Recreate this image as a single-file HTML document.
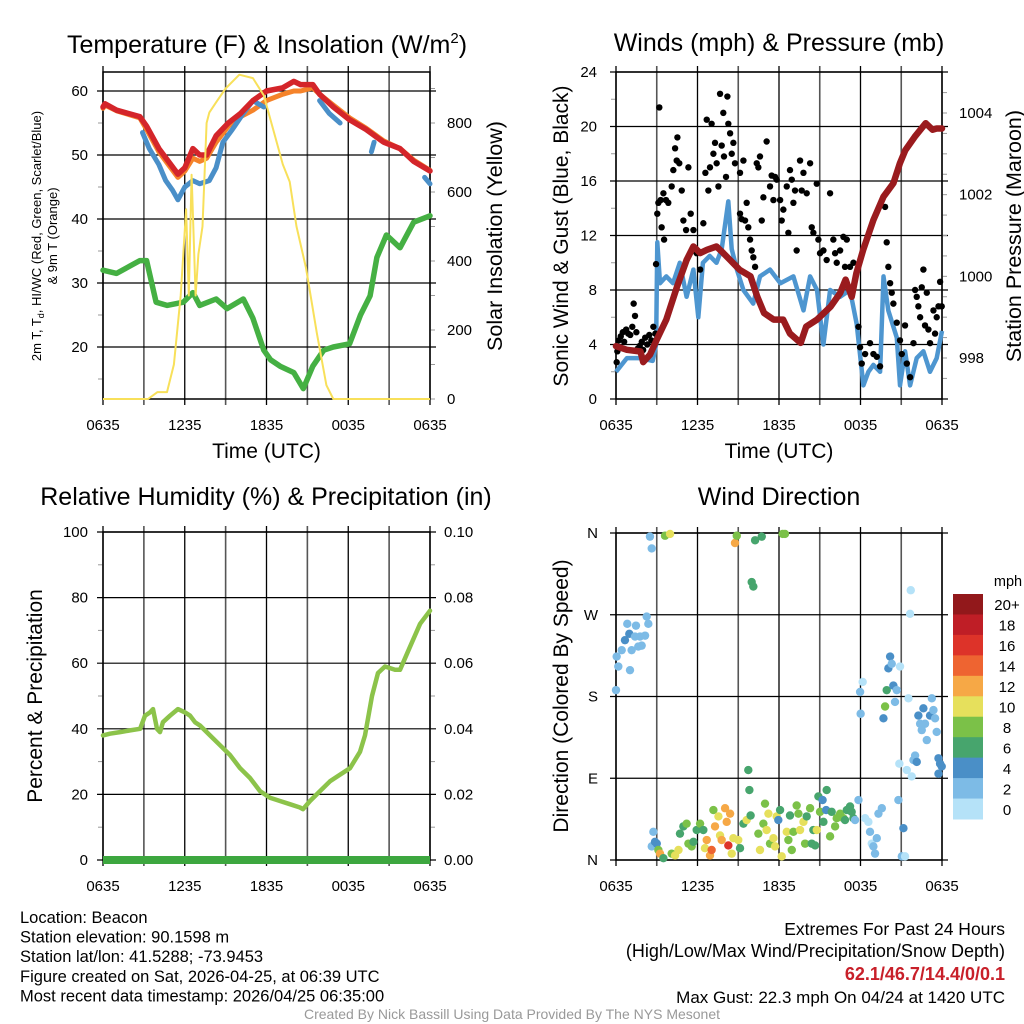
<!DOCTYPE html>
<html><head><meta charset="utf-8">
<style>
html,body{margin:0;padding:0;background:#fff;}
svg{display:block;font-family:"Liberation Sans",Arial,sans-serif;}
</style></head>
<body>
<svg id="svg" width="1024" height="1024" viewBox="0 0 1024 1024"></svg>
<script>
// ---------- DATA ----------
const xTickLabels=["0635","1235","1835","0035","0635"];
// Panel 1: temperature (hours since 0635)
const tempHours=[0,0.15,1,2.7,3.2,4.1,4.8,5.5,6.0,6.6,7.1,7.6,8.3,9.2,10.1,11.0,12.0,13.2,14.0,14.5,15.4,15.9,16.9,18.1,19.3,20.6,21.8,22.8,24];
const tempRed=[57.5,58,57,56,54.5,51,49,47,48,51,50,50,53,55,56.5,58.5,60,60.5,61.5,61,61,59.5,57.5,55.5,54,52,51,49,47.5];
const tempOrange=[57.3,57.8,56.9,55.8,54,50.5,48.5,46.5,47.5,49.5,49,49.5,52,54.5,56,57,58.5,59.5,60,60,60.5,59.5,57.8,55.8,54.2,52.2,51,49.2,47.6];
const hiwcHours=[2.9,3.4,4.1,4.6,5.1,5.5,6.0,6.6,7.1,7.8,8.3,8.8,9.5,10.3,11.0,11.8,null,15.9,16.6,17.4,null,19.7,19.9,null,23.6,24];
const hiwcVals=[53.5,51,48.5,46,44.5,43,45,46,45.5,46,48,52,54,56.5,58.5,57.5,null,58.5,56.5,55,null,50.5,52,null,46.5,45.5];
const dewHours=[0,1,2.7,3.2,3.9,4.7,5.9,6.6,7.1,8.3,9.1,10.3,11.0,11.8,12.3,13.0,14.0,14.7,15.4,16.2,16.9,18.1,18.9,19.6,20.1,20.8,21.8,22.8,24];
const dewVals=[32,31.5,33.5,33.5,27,26.5,27,28.5,26.5,27.5,26,27.5,24.5,19.5,18,17,16,13.5,17,19.5,20,20.5,25,28,34,37.5,35.5,39.5,40.5];
const solarHours=[0,3.3,4.0,4.7,5.2,5.7,6.1,6.3,6.5,6.8,7.0,7.3,7.6,7.8,8.3,9.0,10.0,11.0,11.8,12.5,13.2,13.7,14.2,14.9,15.7,16.4,16.9,24];
const solarVals=[0,0,20,20,100,300,550,300,650,300,420,500,800,830,860,900,940,930,880,780,680,630,500,380,190,40,0,0];
// Panel 2: wind
const windHours=[0,0.8,1.8,2.7,2.95,3.04,3.24,3.7,4.2,4.7,5.2,5.7,6.06,6.4,6.9,7.4,7.78,8.27,8.52,8.9,9.38,10.1,10.6,11.34,12.1,13.06,13.8,14.29,14.8,15.27,15.76,16.5,17.23,17.72,18.21,18.58,18.95,19.44,19.69,20.05,20.67,20.91,21.28,21.65,22.14,22.63,23.12,23.61,24];
const windVals=[2,3,3,2.8,4,11.5,8.5,9,8.5,10,7.5,9.5,6,10,10.5,10,11,14.5,11,9.5,8,7,9,9.5,8.5,9,6.5,9,8,4,8,7.5,8,5.5,1,2,2.5,2,9,6.5,4.5,1,3.5,1,3,3.5,2,3,5];
const gustHours=[0.05,0.1,0.2,0.35,0.5,0.6,0.75,0.9,1.05,1.2,1.3,1.4,1.5,1.6,1.75,1.9,2.0,2.15,2.3,2.45,2.6,2.75,2.9,2.95,
3.04,3.12,3.19,3.29,3.36,3.49,3.54,3.68,3.85,4.10,4.22,4.35,4.47,4.52,4.66,4.84,4.96,5.16,5.33,5.50,5.70,5.94,6.19,6.43,6.58,6.68,6.80,6.92,7.04,7.17,7.29,7.41,7.54,7.66,7.78,7.90,7.95,8.10,8.20,8.27,8.40,8.52,8.64,8.76,
9.13,9.13,9.25,9.38,9.50,9.62,9.74,9.87,9.99,10.11,10.24,10.36,10.48,10.60,10.73,10.85,11.09,11.34,11.46,11.59,11.71,11.83,12.08,12.20,12.32,12.57,12.69,12.81,12.94,13.06,13.18,13.30,13.55,13.67,13.80,14.04,14.29,14.41,14.53,14.78,14.90,15.02,15.27,15.51,15.76,16.00,16.13,16.25,16.50,16.74,16.86,16.99,17.23,17.48,
17.85,17.97,18.09,18.34,18.70,18.95,19.20,19.44,19.81,19.93,20.05,20.18,20.30,20.42,20.67,20.91,21.04,21.28,21.41,21.65,21.90,22.02,22.14,22.26,22.39,22.51,22.63,22.75,22.88,23.00,23.12,23.37,23.49,23.61,23.74,23.86,23.98];
const gustVals=[2.7,3.5,4.3,4.6,4.9,4.2,5.1,4.8,4.7,5.3,7,6.1,4.9,3.7,3.9,4.2,3.6,4.5,4,4.7,4.3,5.3,4.8,9.9,
13.6,14.4,21.4,14.6,12.6,15.1,11.7,14.6,14.4,15.6,16.8,18.4,17.5,19.2,17.3,15.3,13.1,12.4,17,13.6,12.4,10.7,9.5,12.9,16.6,20.5,15.3,17,20.2,18,18.8,17.3,15.6,22.4,18.6,21,17.8,16.3,22.2,20.2,19.5,18,18.8,17.3,
16.6,13.6,13.2,17.5,13.1,14.4,12.6,11.7,10.9,10.4,9.7,17.3,17,17.8,13.1,14.8,18.9,15.6,16.4,14.6,16.3,16.1,14.6,13.1,13.9,15.6,12.2,16.8,16.1,14.4,15.3,10.9,17.5,15.3,16.6,15.1,17.3,12.6,12.2,15.8,11.7,10.7,10.9,10.2,15.1,11.7,10.7,10,10.9,11.9,9.7,11.7,9.7,10,
5.3,3.8,2.6,3.3,4.1,3.3,3.1,2.4,14.1,11.5,9.7,8.5,7.8,7,5.6,4.3,3.3,5.4,2.6,1.6,4.1,8,7.5,6.8,6,8.2,9.5,5.4,7.8,5.1,4.1,6.5,4.8,6,6.8,8.6,6.8];
const presHours=[0,0.8,1.8,2.0,2.5,3.0,3.7,4.5,5.2,5.7,6.2,6.7,7.4,7.9,8.4,9.1,9.9,10.4,10.9,11.6,12.3,12.8,13.6,14.0,14.8,15.8,16.5,16.9,17.35,17.7,18.2,18.95,19.69,20.42,20.9,21.3,22.0,22.8,23.3,23.6,24];
const presVals=[998.29,998.2,998.16,997.9,998.08,998.45,998.94,999.75,1000.4,1000.73,1000.57,1000.65,1000.73,1000.57,1000.4,1000.16,1000.0,999.5,999.1,998.94,998.94,998.6,998.37,998.77,998.94,999.26,999.59,999.92,999.5,1000.08,1000.65,1001.38,1001.95,1002.28,1002.77,1003.09,1003.42,1003.75,1003.59,1003.62,1003.62];
// Panel 3: RH
const rhHours=[0,0.51,1.25,1.98,2.72,3.08,3.45,3.67,3.96,4.18,4.40,4.92,5.50,6.02,6.39,6.75,7.12,7.85,8.59,9.32,10.06,10.79,11.52,12.26,12.99,13.72,14.46,14.68,15.19,15.93,16.66,17.39,18.13,18.86,19.23,19.74,20.18,20.70,21.43,21.80,22.53,23.27,24];
const rhVals=[38,38.5,39,39.5,40,44,45,46,40,39,42,44,46,45,44,42,41,38,35,32,28,25,21,19,18,17,16,15.5,18,21,24,26,28,33,38,50,57,59,58,58,65,72,76];
const precipHours=[0,24];
const precipVals=[0,0];
// Panel 4: wind direction (hours, degrees, speed mph)
const dirHours=[0.0,0.05,0.17,0.42,0.66,0.83,0.98,1.15,1.03,1.40,1.47,1.64,1.77,1.89,2.14,2.26,2.38,2.50,2.63,2.63,2.75,2.87,3.0,3.12,3.24,3.49,3.61,3.98,4.1,4.35,4.6,4.71,4.96,5.2,5.33,5.57,5.7,5.94,6.19,6.43,6.55,6.68,6.92,7.04,7.17,7.29,7.54,7.66,7.78,8.03,8.15,8.27,8.40,8.52,8.64,8.76,8.89,9.0,9.13,9.38,9.62,9.74,9.82,9.91,9.99,10.11,10.24,10.48,10.6,10.73,10.85,10.97,11.09,11.22,11.34,11.59,11.71,11.83,11.95,12.08,12.20,12.27,12.44,12.57,12.69,12.81,12.94,13.06,13.30,13.43,13.55,13.80,13.92,14.04,14.29,14.41,14.53,14.66,14.78,14.90,15.02,15.21,15.27,15.47,15.51,15.76,15.88,16.13,16.25,16.50,16.74,16.86,16.99,17.23,17.35,17.48,17.60,17.85,17.97,18.01,18.16,18.34,18.58,18.70,18.83,18.95,19.07,19.20,19.32,19.57,19.69,19.81,19.93,20.05,20.18,20.30,20.42,20.54,20.67,20.79,20.86,20.91,21.04,21.16,21.28,21.41,21.53,21.65,21.70,21.77,21.90,22.02,22.14,22.26,22.39,22.51,22.63,22.75,22.88,23.12,23.25,23.37,23.49,23.61,23.74,23.86,23.98,23.74];
const dirDegs=[187,224,213,231,242,260,249,231,209,246,258,235,246,236,247,268,260,356,343,15,31,20,18,11,7,2,357,359,7,5,11,29,37,40,18,15,20,33,40,33,13,22,5,11,55,37,48,27,22,57,42,16,51,7,24,349,357,22,13,40,44,99,77,49,306,301,352,29,11,356,40,62,33,51,18,24,15,48,44,55,4,359,359,31,22,49,11,31,60,51,33,42,18,48,57,18,33,16,33,70,53,66,42,55,77,26,53,37,46,51,46,44,55,59,53,46,44,66,185,161,196,46,42,31,18,15,7,24,51,57,156,169,187,211,224,216,192,174,187,66,106,213,4,35,4,99,178,271,297,92,110,115,108,159,150,143,167,150,132,159,178,165,156,141,112,106,103,95];
const dirSpeeds=[2,2,2,3,4,2,4,2,2,2,2,2,2,2,2,2,2,2,2,2,2,4,4,8,12,6,8,10,8,10,10,6,6,8,8,8,6,6,8,6,10,12,12,14,8,12,10,10,12,12,12,16,12,10,10,12,8,10,6,6,10,6,6,6,6,6,6,8,10,6,8,8,10,10,8,10,10,10,4,6,10,8,8,10,8,6,8,8,8,8,10,10,8,6,8,6,6,6,10,6,8,4,6,4,6,8,6,8,8,8,8,6,6,6,6,6,2,2,2,2,0,0,0,2,0,2,2,2,2,2,4,8,6,4,4,2,4,2,2,2,0,0,2,4,0,0,0,0,0,0,2,2,4,4,2,2,4,2,2,4,2,2,2,2,4,4,4,4];
const speedBinLabels=["0","2","4","6","8","10","12","14","16","18","20+"];
const speedBinColors=["#b5e2f8","#7dbbe6","#4a8fc7","#47a56d","#7bc148","#e6e05c","#f6a846","#ee6431","#dd3329","#bf1e26","#92181b"];
// Footer values
const extremesText="62.1/46.7/14.4/0/0.1";

// ---------- HELPERS ----------
const NS="http://www.w3.org/2000/svg";
const svg=document.getElementById('svg');
function mk(tag,attrs,parent,text){const e=document.createElementNS(NS,tag);for(const k in attrs)e.setAttribute(k,attrs[k]);if(text!==undefined)e.textContent=text;(parent||svg).appendChild(e);return e;}
function linScale(d0,d1,r0,r1){return v=>r0+(v-d0)/(d1-d0)*(r1-r0);}
function pathFrom(xs,ys,sx,sy){let d="",pen=false;for(let i=0;i<xs.length;i++){if(xs[i]===null||ys[i]===null){pen=false;continue;}d+=(pen?"L":"M")+sx(xs[i]).toFixed(1)+","+sy(ys[i]).toFixed(1);pen=true;}return d;}

function panel(cfg){
  const g=mk('g',{},svg);
  
  
  const {x0,x1,y0,y1}=cfg;
  const sx=linScale(0,24,x0,x1);
  for(let h=0;h<=24;h+=3){
    const gl=mk('line',{x1:sx(h),x2:sx(h),y1:y0-6,y2:y1+6,stroke:(h%6===0?'#000':'#555'),'stroke-width':(h%6===0?1.3:1.6)},g);
    
    
  }
  for(let i=0;i<xTickLabels.length;i++){
    const t=mk('text',{x:sx(i*6),y:y1+31,'font-size':15,'text-anchor':'middle'},g,xTickLabels[i]);
    
    
  }
  cfg.hlines.forEach(y=>{const l=mk('line',{x1:x0-6,x2:x1+6,y1:y,y2:y,stroke:'#000','stroke-width':1.2},g);
    
    });
  (cfg.minorL||[]).forEach(y=>{mk('line',{x1:x0-5,x2:x0,y1:y,y2:y,stroke:'#999','stroke-width':1},g);});
  (cfg.minorR||[]).forEach(y=>{mk('line',{x1:x1,x2:x1+5,y1:y,y2:y,stroke:'#999','stroke-width':1},g);});
  mk('rect',{x:x0,y:y0,width:x1-x0,height:y1-y0,fill:'none',stroke:'#000','stroke-width':1.5},g);
  if(cfg.xtitle){const t=mk('text',{x:(x0+x1)/2,y:y1+59,'font-size':21,'text-anchor':'middle'},g,cfg.xtitle);
    }
  const tt=mk('text',{x:cfg.tx,y:cfg.ty,'font-size':25,'text-anchor':'middle'},g);
  tt.innerHTML=cfg.title;
  
  
  return {g,sx};
}
function tickLabels(g,vals,scale,x,anchor,fmt){vals.forEach(v=>{const t=mk('text',{x:x,y:scale(v)+5,'font-size':15,'text-anchor':anchor},g,fmt?fmt(v):String(v));
  });}
function vTitle(g,x,y,text,size,name){const t=mk('text',{x:x,y:y,'font-size':size,'text-anchor':'middle',transform:`rotate(-90 ${x} ${y})`},g,text);
  return t;}

// ---------- PANEL 1 ----------
(function(){
  const x0=103,x1=430,y0=72,y1=399;
  const sy=linScale(20,60,347,91), sr=linScale(0,800,399,123);
  const hl=[20,30,40,50,60].map(sy);
  const minorL=[15,25,35,45,55].map(sy);
  const minorR=[100,300,500,700,900].map(sr).concat([0,200,400,600,800].map(sr));
  const {g,sx}=panel({name:'temperature-panel',x0,x1,y0,y1,hlines:hl,minorL,minorR,xtitle:'Time (UTC)',tx:267,ty:53,
    title:'Temperature (F) &amp; Insolation (W/m<tspan dy="-10" font-size="15">2</tspan><tspan dy="10">)</tspan>'});
  tickLabels(g,[20,30,40,50,60],sy,88,'end');
  tickLabels(g,[0,200,400,600,800],sr,447,'start');
  const lt=mk('text',{'font-size':13,'text-anchor':'middle',transform:'translate(41 236) rotate(-90)'},g);
  lt.innerHTML='<tspan x="0" y="0">2m T, T<tspan font-size="9" dy="3">d</tspan><tspan dy="-3">, HI/WC (Red, Green, Scarlet/Blue)</tspan></tspan><tspan x="0" y="16">&amp; 9m T (Orange)</tspan>';
  
  vTitle(g,502,236,'Solar Insolation (Yellow)',21.5,'y-axis-title-right');
  const o=mk('path',{d:pathFrom(tempHours,tempOrange,sx,sy),fill:'none',stroke:'#f5832a','stroke-width':5,'stroke-linejoin':'round','stroke-linecap':'round'},g);
  
  const b=mk('path',{d:pathFrom(hiwcHours,hiwcVals,sx,sy),fill:'none',stroke:'#4a8fc8','stroke-width':5,'stroke-linejoin':'round','stroke-linecap':'round'},g);
  
  const r=mk('path',{d:pathFrom(tempHours,tempRed,sx,sy),fill:'none',stroke:'#d4252a','stroke-width':5.5,'stroke-linejoin':'round','stroke-linecap':'round'},g);
  
  const d=mk('path',{d:pathFrom(dewHours,dewVals,sx,sy),fill:'none',stroke:'#45b043','stroke-width':5.5,'stroke-linejoin':'round','stroke-linecap':'round'},g);
  
  const s=mk('path',{d:pathFrom(solarHours,solarVals,sx,sr),fill:'none',stroke:'#f8e05a','stroke-width':2,'stroke-linejoin':'round'},g);
  
})();

// ---------- PANEL 2 ----------
(function(){
  const x0=616,x1=942,y0=72,y1=399;
  const sy=linScale(0,24,399,72), sp=linScale(998,1004,358,113);
  const hl=[0,4,8,12,16,20,24].map(sy);
  const minorL=[2,6,10,14,18,22].map(sy);
  const minorR=[997.5,998.5,999,999.5,1000.5,1001,1001.5,1002.5,1003,1003.5,1004.5].map(sp).concat([998,1000,1002,1004].map(sp));
  const {g,sx}=panel({name:'wind-pressure-panel',x0,x1,y0,y1,hlines:hl,minorL,minorR,xtitle:'Time (UTC)',tx:779,ty:51,
    title:'Winds (mph) &amp; Pressure (mb)'});
  tickLabels(g,[0,4,8,12,16,20,24],sy,597,'end');
  tickLabels(g,[998,1000,1002,1004],sp,959,'start');
  vTitle(g,568,236,'Sonic Wind & Gust (Blue, Black)',21,'y-axis-title-left');
  vTitle(g,1021,236,'Station Pressure (Maroon)',21.5,'y-axis-title-right');
  const w=mk('path',{d:pathFrom(windHours,windVals,sx,sy),fill:'none',stroke:'#4e96d0','stroke-width':4.5,'stroke-linejoin':'round'},g);
  
  for(let i=0;i<gustHours.length;i++){
    const c=mk('circle',{cx:sx(gustHours[i]),cy:sy(gustVals[i]),r:3.2,fill:'#000'},g);
    
    
  }
  const p=mk('path',{d:pathFrom(presHours,presVals,sx,sp),fill:'none',stroke:'#9a1b1e','stroke-width':6.5,'stroke-linejoin':'round','stroke-linecap':'round'},g);
  
})();

// ---------- PANEL 3 ----------
(function(){
  const x0=103,x1=430,y0=532,y1=860;
  const sy=linScale(0,100,860,532), sr=linScale(0,0.1,860,532);
  const hl=[0,20,40,60,80,100].map(sy);
  const minorL=[10,30,50,70,90].map(sy);
  const {g,sx}=panel({name:'humidity-precip-panel',x0,x1,y0,y1,hlines:hl,minorL,minorR:minorL,xtitle:null,tx:266,ty:505,
    title:'Relative Humidity (%) &amp; Precipitation (in)'});
  tickLabels(g,[0,20,40,60,80,100],sy,88,'end');
  tickLabels(g,[0,0.02,0.04,0.06,0.08,0.1],sr,444,'start',v=>v.toFixed(2));
  vTitle(g,42,696,'Percent & Precipitation',21,'y-axis-title-left');
  const pr=mk('path',{d:pathFrom(precipHours,precipVals,sx,sr),fill:'none',stroke:'#3da73f','stroke-width':8},g);
  
  const rh=mk('path',{d:pathFrom(rhHours,rhVals,sx,sy),fill:'none',stroke:'#8cc34a','stroke-width':4.5,'stroke-linejoin':'round','stroke-linecap':'round'},g);
  
})();

// ---------- PANEL 4 ----------
(function(){
  const x0=616,x1=942,y0=533,y1=860;
  const sy=linScale(0,360,860,533);
  const hl=[0,90,180,270,360].map(sy);
  const {g,sx}=panel({name:'wind-direction-panel',x0,x1,y0,y1,hlines:hl,minorL:[],minorR:[],xtitle:null,tx:779,ty:505,
    title:'Wind Direction'});
  const dl=["N","E","S","W","N"];
  [0,90,180,270,360].forEach((v,i)=>{const t=mk('text',{x:598,y:sy(v)+5,'font-size':15,'text-anchor':'end'},g,dl[i]);
    });
  vTitle(g,568,696,'Direction (Colored By Speed)',21,'y-axis-title-left');
  for(let i=0;i<dirHours.length;i++){
    const bin=Math.min(10,Math.floor(dirSpeeds[i]/2));
    const c=mk('circle',{cx:sx(dirHours[i]),cy:sy(dirDegs[i]),r:4.2,fill:speedBinColors[bin]},g);
    
    
  }
  const cb=mk('g',{},svg);
  
  
  const top=594,bot=819,bh=(bot-top)/speedBinColors.length;
  for(let k=0;k<speedBinColors.length;k++){
    const idx=speedBinColors.length-1-k;
    const rr=mk('rect',{x:953,y:top+k*bh,width:30,height:bh+0.5,fill:speedBinColors[idx]},cb);
    
    
    const t=mk('text',{x:1007,y:top+k*bh+bh/2+6,'font-size':15,'text-anchor':'middle'},cb,speedBinLabels[idx]);
    
    
  }
  const u=mk('text',{x:1008,y:586,'font-size':14.5,'text-anchor':'middle'},cb,'mph');
  
})();

// ---------- FOOTER ----------
(function(){
  const f=mk('g',{'font-size':16.5},svg);
  
  
  const left=["Location: Beacon","Station elevation: 90.1598 m","Station lat/lon: 41.5288; -73.9453","Figure created on Sat, 2026-04-25, at 06:39 UTC","Most recent data timestamp: 2026/04/25 06:35:00"];
  left.forEach((s,i)=>{const t=mk('text',{x:20,y:923+i*19.6},f,s);
    });
  const r1=mk('text',{x:1005,y:935,'text-anchor':'end','font-size':17.5},f,'Extremes For Past 24 Hours');
  
  const r2=mk('text',{x:1005,y:957,'text-anchor':'end','font-size':18},f,'(High/Low/Max Wind/Precipitation/Snow Depth)');
  
  const r3=mk('text',{x:1005,y:980,'text-anchor':'end','font-size':18,'font-weight':'bold',fill:'#c8202a'},f,extremesText);
  
  const r4=mk('text',{x:1005,y:1003,'text-anchor':'end','font-size':17},f,'Max Gust: 22.3 mph On 04/24 at 1420 UTC');
  
  const c=mk('text',{x:512,y:1019,'text-anchor':'middle','font-size':14,fill:'#999'},f,'Created By Nick Bassill Using Data Provided By The NYS Mesonet');
  
})();
</script>
</body></html>
